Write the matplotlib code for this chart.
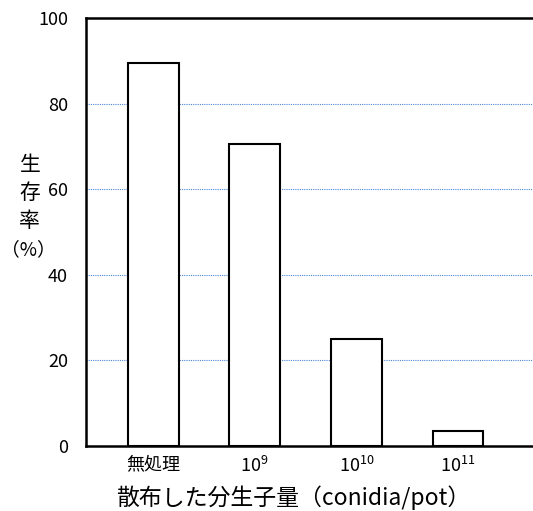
import matplotlib
matplotlib.use("Agg")
import matplotlib.pyplot as plt

plt.rcParams['font.family'] = ['Noto Sans CJK JP', 'DejaVu Sans']
plt.rcParams['mathtext.default'] = 'regular'

categories = ['無処理', '10$^{9}$', '10$^{10}$', '10$^{11}$']
survival = [89.5, 70.5, 25, 3.5]
y_ticks = [0, 20, 40, 60, 80, 100]

fig = plt.figure(figsize=(5.33, 5.11), dpi=100)
ax = fig.add_axes([0.1614, 0.1272, 0.86, 0.8376])

x = range(len(categories))
ax.bar(x, survival, width=0.5, color='white', edgecolor='black', linewidth=1.5, zorder=3)

ax.set_xlim(-0.66, 3.85)
ax.set_ylim(0, 100)
ax.set_yticks(y_ticks)
ax.set_yticklabels([str(t) for t in y_ticks], fontsize=13)
ax.set_xticks(list(x))
ax.set_xticklabels(categories, fontsize=13)
ax.tick_params(axis='both', length=0)
ax.tick_params(axis='y', pad=13)
ax.tick_params(axis='x', pad=7)

# dotted blue gridlines only at inner ticks
for t in y_ticks[1:-1]:
    ax.axhline(t, color='#4a86d8', linestyle=(0, (1, 1)), linewidth=0.8, zorder=1)

for side in ['left', 'top', 'bottom']:
    ax.spines[side].set_linewidth(1.8)
ax.spines['right'].set_visible(False)

fig.text(0.55, 0.027, '散布した分生子量（conidia/pot）', fontsize=16.5, ha='center', va='center')

fig.text(0.056, 0.622, '生\n存\n率', fontsize=15, ha='center', va='center', linespacing=1.35)
fig.text(0.054, 0.511, '（%）', fontsize=13.5, ha='center', va='center')

fig.savefig('out.png', dpi=100)
